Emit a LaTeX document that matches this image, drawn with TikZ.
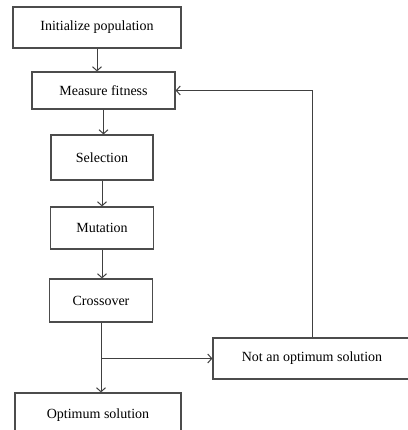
\documentclass[tikz,border=0pt]{standalone}
\usepackage{fontspec}
\setmainfont{Liberation Serif}
\usepackage{tikz}
\usetikzlibrary{arrows.meta}

\begin{document}
\begin{tikzpicture}[x=1pt,y=-1pt,
  stage/.style={draw=black!70, line width=1.2pt, inner sep=0pt,
    font=\fontsize{14}{16}\selectfont},
  flow/.style={draw=black!75, line width=1pt,
    -{Straight Barb[length=4pt,width=9pt]}}]

  \useasboundingbox (0,0) rectangle (407,430);

  \node[stage, minimum width=168pt, minimum height=41pt] (init) at (97,27.5) {Initialize population};
  \node[stage, minimum width=143pt, minimum height=37pt] (fitness) at (103.5,90.5) {Measure fitness};
  \node[stage, minimum width=102pt, minimum height=45pt] (select) at (102,157.5) {Selection};
  \node[stage, minimum width=103pt, minimum height=42pt] (mutate) at (102,228) {Mutation};
  \node[stage, minimum width=103pt, minimum height=43pt] (cross) at (101,300.5) {Crossover};
  \node[stage, minimum width=198pt, minimum height=41pt] (notopt) at (312,358.5) {Not an optimum solution};
  \node[stage, minimum width=166pt, minimum height=44pt] (opt) at (98,415) {Optimum solution};

  \draw[flow] (init.south) -- (init.south |- fitness.north);
  \draw[flow] (fitness.south) -- (fitness.south |- select.north);
  \draw[flow] (select.south) -- (select.south |- mutate.north);
  \draw[flow] (mutate.south) -- (mutate.south |- cross.north);
  \draw[flow] (cross.south) -- (cross.south |- opt.north);

  \coordinate (split) at (cross.south |- notopt.west);
  \draw[flow] (split) -- (notopt.west);
  \draw[flow] (notopt.north) |- (fitness.east);
\end{tikzpicture}
\end{document}
